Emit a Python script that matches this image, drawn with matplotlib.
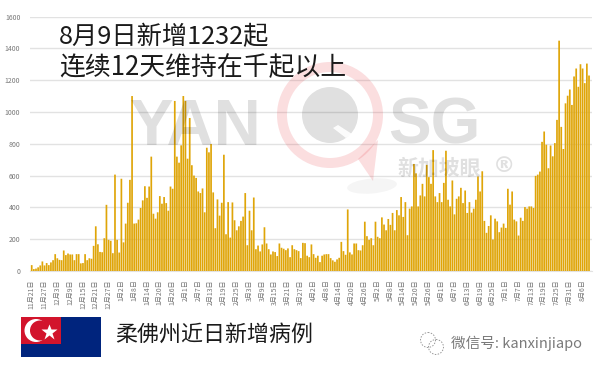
import matplotlib
matplotlib.use("Agg")
import matplotlib.pyplot as plt
from matplotlib.patches import Circle, Rectangle, Polygon, Ellipse, Wedge

plt.rcParams['font.family'] = ['Noto Sans CJK SC', 'DejaVu Sans']

# new cases per day, 21 Nov to 9 Aug
cases = [37, 12, 15, 23, 35, 60, 35, 50, 37, 54, 68, 106, 80, 70, 68, 129, 100, 110, 104, 104, 68, 106,
         106, 48, 50, 106, 68, 80, 77, 158, 281, 168, 120, 118, 206, 416, 196, 190, 112, 606, 196, 116, 580, 180,
         298, 429, 573, 1100, 298, 300, 323, 396, 444, 533, 460, 531, 719, 360, 329, 369, 471, 423, 465, 427, 379,
         531, 517, 1069, 719, 681, 790, 1100, 1069, 706, 962, 665, 600, 585, 500, 490, 519, 369, 775, 746, 798,
         494, 269, 450,
         348, 429, 731, 231, 433, 210, 431, 319, 256, 281, 315, 342, 490, 162, 379, 256, 462, 137, 160, 123, 167,
         275, 173, 137, 104, 123, 119, 94, 173, 146, 140, 131, 142, 87, 162, 137, 131, 125, 81, 177, 175, 96, 87,
         167, 106, 83, 96, 56, 96, 104, 106, 106, 81, 67, 58, 73, 83, 183, 125, 102, 387, 117, 104, 173, 173, 131,
         129, 162, 310, 219, 196, 206, 162, 310, 215, 206, 337, 292, 256, 327, 290, 365, 256, 383, 350,
         465, 340, 433, 225, 392, 406, 673, 614, 406, 475, 548, 469, 667, 590, 548, 760, 469, 433, 490, 433, 554,
         756, 448, 406, 569, 356, 454, 469, 523, 427, 506, 365, 433, 367, 392, 448, 594, 500, 627, 315, 240, 283,
         350, 198, 329, 312, 244, 273, 298, 271, 517, 417, 500, 323, 312, 223, 335, 315, 402, 392, 406, 406, 396,
         598, 606, 625, 812, 877, 794, 646, 789, 721, 804, 950, 1448, 906, 767, 1054, 1102, 1141, 1044, 1223, 1273,
         1158, 1300, 1273, 1181, 1304, 1229]

date_labels = ['11月21日', '11月27日', '12月3日', '12月9日', '12月15日', '12月21日', '12月27日', '1月2日', '1月8日',
               '1月14日', '1月20日', '1月26日', '2月1日', '2月7日', '2月13日', '2月19日', '2月25日', '3月3日', '3月9日',
               '3月15日', '3月21日', '3月27日', '4月2日', '4月8日', '4月14日', '4月20日', '4月26日', '5月2日', '5月8日',
               '5月14日', '5月20日', '5月26日', '6月1日', '6月7日', '6月13日', '6月19日', '6月25日', '7月1日', '7月7日',
               '7月13日', '7月19日', '7月25日', '7月31日', '8月6日']
y_ticks = [0, 200, 400, 600, 800, 1000, 1200, 1400, 1600]

W, H = 601, 371
fig = plt.figure(figsize=(W / 100, H / 100), dpi=100, facecolor='white')
ax = fig.add_axes([30 / W, 1 - 271 / H, 562 / W, 254.5 / H])

# snap off so the thin bars blend instead of leaving white gaps
bars = ax.bar(range(len(cases)), cases, width=0.8, color='#dfa508', zorder=3)
for b in bars:
    b.set_snap(False)
ax.set_xlim(-0.8, 262.4)
ax.set_ylim(0, 1600)
ax.set_yticks(y_ticks)
ax.set_xticks(range(0, len(cases), 6))
ax.set_xticklabels(date_labels, rotation=90, fontsize=5, color='#777777')
ax.tick_params(axis='y', labelsize=5, labelcolor='#777777', length=0, pad=7)
ax.tick_params(axis='x', length=0, pad=6)
ax.grid(axis='y', color='#e2e2e2', lw=1)
ax.set_axisbelow(True)
for s in ax.spines.values():
    s.set_visible(False)
ax.spines['bottom'].set_visible(True)
ax.spines['bottom'].set_color('#e2e2e2')

# overlay in pixel coordinates for the watermark, captions and flag
ov = fig.add_axes([0, 0, 1, 1], zorder=5)
ov.set_xlim(0, W)
ov.set_ylim(H, 0)
ov.axis('off')
ov.patch.set_alpha(0)

# watermark
ov.text(130, 145, 'YAN', family='Liberation Sans', weight='bold', fontsize=47, color='black', alpha=0.12, va='baseline')
ov.text(388, 143, 'SG', family='Liberation Sans', weight='bold', fontsize=46, color='black', alpha=0.12, va='baseline')
ov.add_patch(Wedge((330, 115), 53, 0, 360, width=10, fc='#e8323c', ec='none', alpha=0.16))
ov.add_patch(Polygon([(358, 159), (378, 140), (373, 181)], fc='#e8323c', ec='none', alpha=0.16))
ov.add_patch(Circle((330, 115), 28, fc='black', ec='none', alpha=0.12))
ov.add_patch(Polygon([(333, 128), (338, 125), (352, 134), (346, 138)], fc='white', ec='none', alpha=0.9))
ov.add_patch(Ellipse((372, 186), 50, 15, angle=-5, fc='black', ec='none', alpha=0.04))
ov.text(398, 168, '新加坡眼', fontsize=15, weight='bold', color='black', alpha=0.12, va='center')
ov.text(493, 166, '®', family='DejaVu Sans', fontsize=16, weight='bold', color='black', alpha=0.12, va='center')

# headline
ov.text(59, 37, '8月9日新增1232起', fontsize=18.2, color='#1a1a1a', va='center')
ov.text(59, 68, '连续12天维持在千起以上', fontsize=18.6, color='#1a1a1a', va='center')

# flag
ov.add_patch(Rectangle((21, 317), 80, 40, fc='#00247d', ec='none'))
ov.add_patch(Rectangle((21, 317), 40, 27, fc='#d2142c', ec='none'))
ov.add_patch(Circle((36, 330.5), 11.5, fc='white', ec='none'))
ov.add_patch(Circle((40, 330.5), 10, fc='#d2142c', ec='none'))
ov.plot([49], [332], marker='*', ms=12, color='white', mec='none')

ov.text(115, 335, '柔佛州近日新增病例', fontsize=15.8, color='#1a1a1a', va='center')

# wechat mark
ov.add_patch(Circle((428, 340), 7.5, fc='none', ec='#999999', lw=0.7, ls=(0, (1.5, 1.5))))
ov.add_patch(Circle((436, 347), 7.5, fc='none', ec='#999999', lw=0.7, ls=(0, (1.5, 1.5))))
ov.text(451, 343, '微信号: kanxinjiapo', fontsize=10.5, color='#7a7a7a', va='center')

fig.savefig('out.png', dpi=100, facecolor='white')
